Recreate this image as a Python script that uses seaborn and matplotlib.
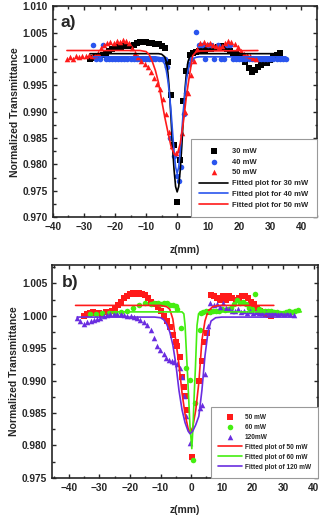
import numpy as np
import pandas as pd
import matplotlib
matplotlib.use('Agg')
import matplotlib.pyplot as plt
from matplotlib.ticker import MultipleLocator, FormatStrFormatter
import seaborn as sns

# ---- panel a) measured data ----
z30 = [-28, -27, -26, -25, -24, -23, -22, -21, -20, -19, -18, -17, -16, -15, -14, -13, -12, -11, -10, -9,
       -8, -7, -6, -5, -4, -3, -2, -1, 0, 1, 2, 3, 4, 5, 6, 7, 8, 9, 10, 11,
       12, 13, 14, 15, 16, 17, 18, 19, 20, 21, 22, 23, 24, 25, 26, 27, 28, 29, 30, 31, 32, 33]
t30 = [1.0000, 1.0002, 1.0004, 1.0005, 1.0008, 1.0012, 1.0015, 1.0018, 1.0020, 1.0022, 1.0023, 1.0024, 1.0024, 1.0025,
       1.0027, 1.0030, 1.0032, 1.0033, 1.0032, 1.0030, 1.0031, 1.0028, 1.0029, 1.0025, 1.0020, 0.9995, 0.9932, 0.9836,
       0.9728, 0.9808, 0.9920, 0.9978, 1.0008, 1.0012, 1.0014, 1.0015, 1.0018, 1.0016, 1.0020, 1.0018, 1.0020, 1.0022,
       1.0025, 1.0022, 1.0018, 1.0015, 1.0012, 1.0010, 1.0008, 1.0005, 0.9995, 0.9982, 0.9976, 0.9979, 0.9984, 0.9988,
       0.9993, 0.9992, 0.9998, 1.0004, 1.0008, 1.0011]

z40 = [-27, -26, -25, -24, -23, -22, -21, -20, -19, -18, -17, -16, -15, -14, -13, -12, -11, -10, -9, -8, -7, -6,
       -5, -4, -3.2, -2.2, -1.1, 0, 0.5, 1.2, 2.1, 2.8, 3.7, 4.5, 6, 7, 8, 9, 10, 11, 12, 13, 14, 15, 16, 17, 18,
       19, 20, 21, 22, 23, 24, 25, 26, 27, 28, 29, 30, 31, 32, 33, 34, 35]
t40 = [1.0027, 1.0000, 1.0000, 1.0027, 1.0000, 1.0000, 1.0000, 1.0000, 1.0000, 1.0000, 1.0000, 1.0000, 1.0000,
       1.0000, 1.0000, 1.0000, 1.0000, 1.0000, 1.0000, 1.0000, 1.0000, 1.0000, 1.0000, 1.0000, 0.9985, 0.9850,
       0.9817, 0.9778, 0.9768, 0.9795, 0.9896, 0.9935, 0.9990, 1.0000, 1.0052, 1.0027, 1.0027, 1.0000, 1.0027,
       1.0027, 1.0000, 1.0027, 1.0000, 1.0000, 1.0027, 1.0027, 1.0000, 1.0000, 1.0000, 1.0000, 1.0000, 1.0000,
       1.0000, 1.0000, 1.0000, 1.0000, 1.0000, 1.0000, 1.0000, 1.0000, 1.0000, 1.0000, 1.0000, 1.0000]

z50a = [-35.5, -34.5, -33.5, -32.5, -31.5, -30.5, -29.5, -28.5, -27.5, -26.5, -25.5, -24.5, -23.5, -22.5, -21.5,
        -20.5, -19.5, -18.5, -17.5, -16.5, -15.5, -14.5, -13.5, -12.5, -11.5, -10.5, -9.5, -8.5, -7.5, -6.5,
        -5.5, -4.5, -3.5, -2.5, -1.5, -0.5, 0.5, 1.5, 2.5, 3.5, 4.5, 5.5, 6.5, 7.5, 8.5, 9.5, 10.5, 11.5, 12.5,
        13.5, 14.5, 15.5, 16.5, 17.5, 18.5, 19.5, 20.5, 21.5, 22.5, 23.5, 24.5, 25.5]
t50a = [1.0000, 1.0003, 1.0000, 1.0005, 1.0003, 1.0006, 1.0005, 1.0007, 1.0006, 1.0008, 1.0012, 1.0020, 1.0027,
        1.0030, 1.0032, 1.0031, 1.0034, 1.0033, 1.0035, 1.0034, 1.0030, 1.0020, 1.0012, 1.0004, 0.9996, 0.9990,
        0.9985, 0.9975, 0.9963, 0.9952, 0.9943, 0.9925, 0.9895, 0.9862, 0.9835, 0.9821, 0.9827, 0.9860, 0.9899,
        0.9935, 0.9970, 0.9997, 1.0018, 1.0030, 1.0032, 1.0028, 1.0030, 1.0027, 1.0025, 1.0022, 1.0025, 1.0030,
        1.0034, 1.0032, 1.0028, 1.0022, 1.0015, 1.0010, 1.0008, 1.0005, 1.0002, 0.9999]

# ---- panel a) fitted curves ----
fz30 = [-28, -6, -5, -4, -3.5, -3, -2.5, -2, -1.5, -1, -0.5, 0, 0.5, 1, 1.5, 2, 2.5, 3, 3.5, 4, 5, 6, 33]
ft30 = [1.0010, 1.0010, 1.0009, 1.0004, 0.9995, 0.9975, 0.9940, 0.9890, 0.9835, 0.9790, 0.9758, 0.9748, 0.9758,
        0.9790, 0.9835, 0.9890, 0.9940, 0.9975, 0.9995, 1.0004, 1.0009, 1.0010, 1.0010]
fz40 = [-27, -7, -6, -5, -4, -3.5, -3, -2.5, -2, -1.5, -1, -0.5, 0, 0.5, 1, 1.5, 2, 2.5, 3, 3.5, 4, 5, 6, 7, 35]
ft40 = [1.0004, 1.0004, 1.0003, 1.0000, 0.9990, 0.9978, 0.9960, 0.9935, 0.9902, 0.9863, 0.9825, 0.9795, 0.9783,
        0.9795, 0.9825, 0.9863, 0.9902, 0.9935, 0.9960, 0.9978, 0.9990, 1.0000, 1.0003, 1.0004, 1.0004]
fz50a = [-35.5, -12, -10, -9, -8, -7, -6, -5, -4, -3, -2, -1, -0.5, 0, 1, 2, 3, 4, 5, 6, 7, 26]
ft50a = [1.0016, 1.0016, 1.0014, 1.0008, 0.9995, 0.9978, 0.9955, 0.9922, 0.9890, 0.9862, 0.9835, 0.9820, 0.9817,
         0.9818, 0.9840, 0.9880, 0.9930, 0.9970, 1.0006, 1.0013, 1.0015, 1.0016]

# ---- panel b) measured data ----
z50b = [-35, -34, -33, -32, -31, -30, -29, -28, -27, -26, -25, -24, -23, -22, -21, -20, -19, -18, -17, -16, -15,
        -14, -13, -12, -11, -10, -9, -8, -7, -6, -5, -4.5, -3.5, -3, -2.5, -2, -1.5, 0.3, 2.5, 3.5, 4.3, 5.2,
        5.7, 6.5, 7.5, 8.5, 9.5, 10.5, 11.5, 12.5, 13.5, 14.5, 15.5, 16.5, 17.5, 18.5, 19.5, 20.5, 21.5, 22.5,
        23.5, 24.5, 25.5, 26]
t50b = [1.0000, 1.0002, 1.0004, 1.0006, 1.0004, 1.0005, 1.0003, 1.0006, 1.0005, 1.0007, 1.0010, 1.0016, 1.0022,
        1.0028, 1.0030, 1.0033, 1.0035, 1.0034, 1.0035, 1.0033, 1.0032, 1.0028, 1.0022, 1.0018, 1.0013, 1.0008,
        1.0000, 0.9992, 0.9983, 0.9970, 0.9960, 0.9953, 0.9937, 0.9906, 0.9890, 0.9876, 0.9855, 0.9782, 0.9900,
        0.9930, 0.9960, 0.9973, 1.0006, 1.0032, 1.0030, 1.0028, 1.0025, 1.0030, 1.0025, 1.0030, 1.0028, 1.0025,
        1.0028, 1.0030, 1.0031, 1.0028, 1.0022, 1.0018, 1.0012, 1.0008, 1.0005, 1.0003, 1.0001, 1.0000]

z60 = [-33, -31, -29, -27, -25, -23, -21, -19, -17, -15, -13, -12, -11, -10, -9, -8, -7, -6, -5, -4.5, -3.3,
       -1.8, -0.3, 0.5, 1.1, 2.8, 3.2, 4, 5, 6, 7, 8, 9, 10, 11, 12, 13, 14, 15, 16, 17, 18, 19, 20, 21, 22, 23,
       24, 25, 26, 27, 28, 29, 30, 31, 32, 33, 34, 35]
t60 = [1.0002, 1.0003, 1.0004, 1.0004, 1.0005, 1.0006, 1.0008, 1.0012, 1.0016, 1.0019, 1.0018, 1.0020, 1.0019,
       1.0018, 1.0020, 1.0019, 1.0017, 1.0016, 1.0015, 1.0010, 0.9981, 0.9920, 0.9901, 0.9778, 0.9865, 0.9978,
       1.0004, 1.0006, 1.0007, 1.0006, 1.0008, 1.0007, 1.0008, 1.0010, 1.0009, 1.0010, 1.0012, 1.0018, 1.0025,
       1.0020, 1.0022, 1.0018, 1.0012, 1.0010, 1.0034, 1.0010, 1.0008, 1.0008, 1.0007, 1.0007, 1.0006, 1.0006,
       1.0005, 1.0005, 1.0006, 1.0007, 1.0006, 1.0008, 1.0009]

z120 = [-37.3, -36.2, -35.1, -34, -32.9, -31.8, -30.7, -29.7, -28.6, -27.5, -26.4, -25.3, -24.2, -23.1, -22,
        -20.9, -19.8, -18.8, -17.7, -16.6, -15.5, -14.4, -13.3, -12.2, -11.2, -10.1, -9, -8.4, -7.3, -6.2,
        -5.7, -4.6, -3.5, -3.1, -2.5, -1.6, -0.5, 3, 3.5, 4.6, 5.5, 6.3, 7.3, 8.3, 9.3, 10.3, 11.3, 12.3, 13.3,
        14.3, 15.3, 16.3, 17.3, 18.3, 19.3, 20.3, 21.3, 22.3, 23.3, 24.3, 25.3, 26.3, 27.3, 28.3, 29.3, 30.3,
        31.3, 32.3, 33.5]
t120 = [0.9996, 0.9992, 0.9988, 0.9990, 0.9992, 0.9994, 0.9995, 0.9997, 0.9999, 1.0001, 1.0002, 1.0003, 1.0003,
        1.0002, 1.0001, 1.0000, 0.9999, 0.9998, 0.9996, 0.9993, 0.9990, 0.9986, 0.9978, 0.9965, 0.9953, 0.9947,
        0.9941, 0.9935, 0.9932, 0.9930, 0.9929, 0.9925, 0.9920, 0.9905, 0.9877, 0.9845, 0.9803, 0.9858, 0.9862,
        0.9910, 0.9985, 1.0019, 1.0016, 1.0018, 1.0014, 1.0020, 1.0012, 1.0010, 1.0008, 1.0008, 1.0010, 1.0006,
        1.0008, 1.0005, 1.0007, 1.0005, 1.0006, 1.0004, 1.0005, 1.0006, 1.0004, 1.0005, 1.0004, 1.0003, 1.0004,
        1.0003, 1.0004, 1.0002, 1.0001]

# ---- panel b) fitted curves ----
fz50b = [-37.8, -10, -8, -7, -6, -5, -4, -3, -2, -1, -0.3, 0.5, 1.5, 2.5, 3.5, 4.5, 5.5, 7, 9, 27]
ft50b = [1.0016, 1.0016, 1.0014, 1.0010, 0.9995, 0.9960, 0.9925, 0.9881, 0.9848, 0.9826, 0.9820, 0.9828, 0.9855,
         0.9897, 0.9962, 0.9992, 1.0007, 1.0014, 1.0016, 1.0016]
fz60 = [-26, -3, -2.4, -2, -1.6, -1.2, -0.8, -0.4, 0.2, 0.6, 1.0, 1.4, 1.9, 2.4, 3, 36]
ft60 = [1.0006, 1.0006, 1.0003, 0.9985, 0.9947, 0.9910, 0.9870, 0.9830, 0.9795, 0.9830, 0.9880, 0.9922, 0.9985,
        1.0003, 1.0006, 1.0006]
fz120 = [-37.3, -12, -10, -9, -8, -7, -6, -5, -4, -3, -2, -1, -0.4, 0.5, 1.5, 2.5, 3.5, 4.5, 5.5, 6.5, 8, 10, 33.5]
ft120 = [0.9998, 0.9998, 0.9997, 0.9994, 0.9987, 0.9975, 0.9955, 0.9925, 0.9885, 0.9855, 0.9835, 0.9822, 0.9818,
         0.9822, 0.9832, 0.9845, 0.9885, 0.9938, 0.9975, 0.9992, 0.9997, 0.9998, 0.9998]

labels_a = ['30 mW', '40 mW', '50 mW', 'Fitted plot for 30 mW', 'Fitted plot for 40 mW', 'Fitted plot for 50 mW']
labels_b = ['50 mW', '60 mW', '120mW', 'Fitted plot of 50 mW', 'Fitted plot of 60 mW', 'Fitted plot of 120 mW']

BLACK = '#000000'
BLUE = '#2a55ee'
RED = '#ff1a1a'
GREEN = '#44ee11'
PURPLE = '#6a2de0'

sns.set_style('ticks')
plt.rcParams['font.family'] = ['Liberation Sans', 'DejaVu Sans']
plt.rcParams['font.weight'] = 'bold'
plt.rcParams['axes.labelweight'] = 'bold'

fig = plt.figure(figsize=(3.23, 5.16), dpi=100)
ax1 = fig.add_axes([0.164, 0.579, 0.817, 0.409])
ax2 = fig.add_axes([0.161, 0.074, 0.824, 0.412])


def draw(ax, scat, fits, labels, leg_fs, hlen):
    for (z, t, m, c), lab in zip(scat, labels[:3]):
        sns.scatterplot(x=z, y=t, marker=m, color=c, s=16, linewidth=0, ax=ax, label=lab)
    for (z, t, c), lab in zip(fits, labels[3:]):
        sns.lineplot(x=z, y=t, color=c, lw=1.2, ax=ax, label=lab)
    h, l = ax.get_legend_handles_labels()
    order = [l.index(x) for x in labels]
    leg = ax.legend([h[i] for i in order], [l[i] for i in order], loc='lower right', fontsize=leg_fs,
                    frameon=True, fancybox=False, framealpha=1, edgecolor='#999999',
                    borderaxespad=0.0, handlelength=hlen, labelspacing=0.45, borderpad=1.1,
                    handletextpad=0.5, markerscale=1.0)
    leg.get_frame().set_linewidth(0.8)
    for sp in ax.spines.values():
        sp.set_linewidth(1.2)
        sp.set_visible(True)
    ax.tick_params(which='both', direction='in', top=True, right=True, labelsize=7.3, width=1)
    ax.tick_params(which='major', length=3)
    ax.tick_params(which='minor', length=1.8)
    ax.xaxis.set_major_locator(MultipleLocator(10))
    ax.xaxis.set_minor_locator(MultipleLocator(5))
    ax.yaxis.set_major_formatter(FormatStrFormatter('%.3f'))
    ax.set_xlabel('z(mm)', fontsize=7.5, labelpad=9)
    ax.set_ylabel('Normalized Transmittance', fontsize=7.5, labelpad=2)


draw(ax1,
     [(z30, t30, 's', BLACK), (z40, t40, 'o', BLUE), (z50a, t50a, '^', RED)],
     [(fz30, ft30, BLACK), (fz40, ft40, BLUE), (fz50a, ft50a, RED)],
     labels_a, 5.5, 3.8)
ax1.set_xlim(-40, 45)
ax1.set_ylim(0.970, 1.010)
ax1.yaxis.set_major_locator(MultipleLocator(0.005))
ax1.yaxis.set_minor_locator(MultipleLocator(0.0025))
ax1.text(0.028, 0.96, 'a)', transform=ax1.transAxes, fontsize=12.5, fontweight='bold', va='top')

draw(ax2,
     [(z50b, t50b, 's', RED), (z60, t60, 'o', GREEN), (z120, t120, '^', PURPLE)],
     [(fz50b, ft50b, RED), (fz60, ft60, GREEN), (fz120, ft120, PURPLE)],
     labels_b, 4.7, 3.6)
ax2.set_xlim(-45.5, 41.5)
ax2.set_ylim(0.975, 1.0078)
ax2.yaxis.set_major_locator(MultipleLocator(0.005))
ax2.yaxis.set_minor_locator(MultipleLocator(0.0025))
ax2.text(0.035, 0.955, 'b)', transform=ax2.transAxes, fontsize=12.5, fontweight='bold', va='top')

fig.savefig('out.png', dpi=100)
